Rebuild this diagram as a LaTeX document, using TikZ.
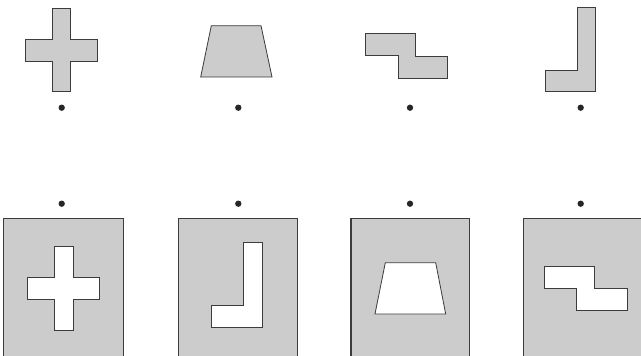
\documentclass[tikz,border=0pt]{standalone}
\usepackage{xcolor}
\definecolor{shapegray}{RGB}{204,204,204}
\definecolor{edgegray}{RGB}{60,60,60}
\usepackage{tikz}
\usetikzlibrary{positioning}

\begin{document}
\begin{tikzpicture}[
  x=0.3mm, y=-0.3mm,
  piece/.style={draw=edgegray, fill=shapegray, line width=0.7pt},
  hole/.style={draw=edgegray, fill=white, line width=0.7pt},
  plate/.style={draw=edgegray, fill=shapegray, line width=0.9pt},
  dot/.style={circle, fill=black!85, inner sep=0pt, minimum size=1.9mm}
]
  \useasboundingbox (0,0) rectangle (641,355);
  \clip (0,0) rectangle (641,355);
  % Row 1: the loose pieces
  \draw[piece] (52.3,8) -- (70.7,8) -- (70.7,39.3) -- (97.3,39.3) -- (97.3,61)
    -- (70.7,61) -- (70.7,91.7) -- (52.3,91.7) -- (52.3,61) -- (25.7,61)
    -- (25.7,39.3) -- (52.3,39.3) -- cycle;
  \draw[piece] (211.3,25.7) -- (261,25.7) -- (272,77) -- (200.7,77) -- cycle;
  \draw[piece] (365.7,33.7) -- (415.7,33.7) -- (415.7,56) -- (447.7,56)
    -- (447.7,78.3) -- (398.3,78.3) -- (398.3,55.7) -- (365.7,55.7) -- cycle;
  \draw[piece] (577,7.7) -- (595,7.7) -- (595,91.7) -- (545.3,91.7)
    -- (545.3,70.7) -- (577,70.7) -- cycle;
  % dots under the pieces
  \node[dot] (t1) at (61.7,107.7) {};
  \node[dot] (t2) at (238.3,107.7) {};
  \node[dot] (t3) at (410,107.7) {};
  \node[dot] (t4) at (580.7,107.7) {};
  % dots over the plates
  \node[dot] (b1) at (61.7,203.7) {};
  \node[dot] (b2) at (238.3,203.7) {};
  \node[dot] (b3) at (410,203.7) {};
  \node[dot] (b4) at (580.7,203.7) {};
  % Row 2: plates with holes
  \draw[plate] (3.7,380) -- (3.7,218.7) -- (123.3,218.7) -- (123.3,380);
  \draw[hole] (54.3,246) -- (73,246) -- (73,277.7) -- (99.3,277.7) -- (99.3,299)
    -- (73,299) -- (73,330) -- (54.3,330) -- (54.3,299) -- (27.7,299)
    -- (27.7,277.7) -- (54.3,277.7) -- cycle;
  \draw[plate] (178.7,380) -- (178.7,218.7) -- (297.3,218.7) -- (297.3,380);
  \draw[hole] (243.7,242.7) -- (262,242.7) -- (262,327) -- (211,327)
    -- (211,305.7) -- (243.7,305.7) -- cycle;
  \draw[plate] (351,380) -- (351,218.7) -- (469.7,218.7) -- (469.7,380);
  \draw[hole] (385.3,262.7) -- (435.7,262.7) -- (445.7,314) -- (375,314) -- cycle;
  \draw[plate] (523.3,380) -- (523.3,218.7) -- (643,218.7) -- (643,380);
  \draw[hole] (544.3,266) -- (594.3,266) -- (594.3,288.3) -- (627,288.3)
    -- (627,310) -- (576.7,310) -- (576.7,288.3) -- (544.3,288.3) -- cycle;
\end{tikzpicture}
\end{document}
